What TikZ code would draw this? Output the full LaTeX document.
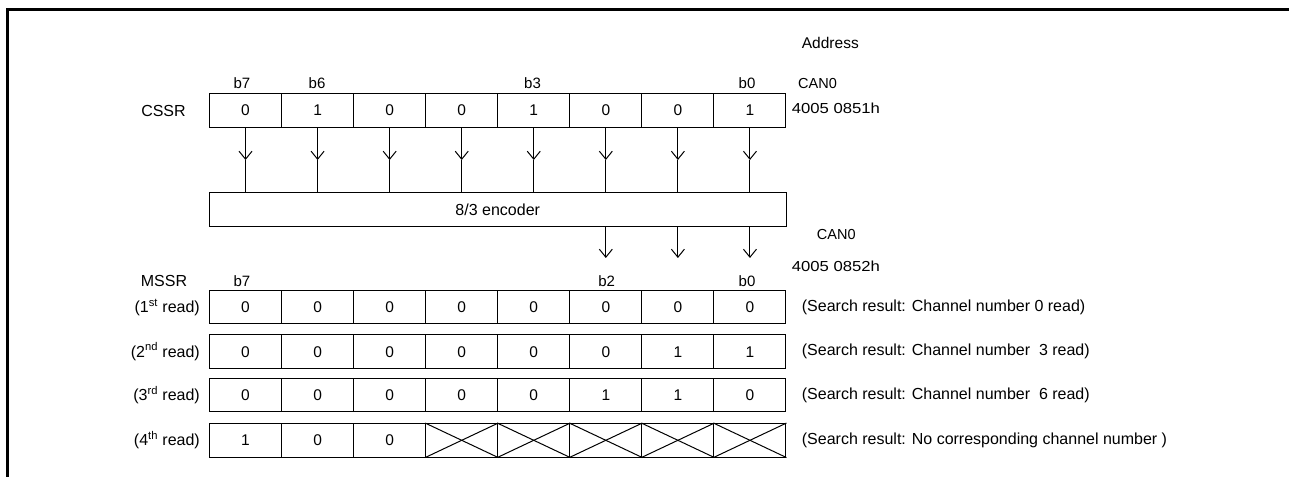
\documentclass[tikz,border=0pt]{standalone}
\usepackage{fontspec}
\setmainfont{Liberation Sans}
\usetikzlibrary{arrows.meta}
\newcommand\myL{\fontsize{16bp}{18bp}\selectfont}
\newcommand\myM{\fontsize{15.5bp}{17bp}\selectfont}
\newcommand\myS{\fontsize{15bp}{17bp}\selectfont}
\newcommand\myC{\fontsize{14.5bp}{16bp}\selectfont}
\newcommand\myT{\fontsize{14.5bp}{16bp}\selectfont}
\begin{document}
\begin{tikzpicture}[x=1bp,y=-1bp,
  cell/.style={draw,line width=1bp,minimum width=72.06bp,minimum height=33.5bp,inner sep=0pt,font=\myM},
  lab/.style={inner sep=0pt,font=\myS},
  biglab/.style={inner sep=0pt,font=\myL},
  arr/.style={line width=1bp,-{Straight Barb[length=8bp,width=13bp,line width=1bp]}},
  wire/.style={line width=1bp}]
\useasboundingbox (0,0) rectangle (1289,477);
\fill[white] (0,0) rectangle (1289,477);
% frame
\draw[line width=3bp,line join=miter] (7.5,477) -- (7.5,9.5) -- (1289,9.5);
% CSSR row
\foreach \v [count=\i] in {0,1,0,0,1,0,0,1}{
  \node[cell,minimum height=34.4bp] (c\i) at ({209.5+72.06*(\i-0.5)},110.5) {\v};
}
\node[biglab] (cssr) at (163.5,110.5) {CSSR};
\node[lab] (t7) at (242,83.3) {b7};
\node[lab] (t6) at (317,83.3) {b6};
\node[lab] (t3) at (532.5,83.3) {b3};
\node[lab] (t0) at (747,83.3) {b0};
\node[lab,anchor=west,font=\myM] (addr) at (801.7,43.3) {Address};
\node[lab,anchor=west,font=\myC] (can0a) at (798,83.5) {CAN0};
\node[inner sep=0pt,anchor=west,font=\myT] (adra) at (791.7,108) {\scalebox{1.15}[1]{4005 0851h}};
% encoder
\node[draw,line width=1bp,minimum width=576.5bp,minimum height=34bp,inner sep=0pt,font=\myL] (enc) at (497.75,209.7) {8/3 encoder};
\foreach \i in {1,...,8}{
  \coordinate (a\i) at ({209.5+72.06*(\i-0.5)},160);
  \draw[arr] (c\i.south) -- (a\i);
  \draw[wire] (a\i) -- (a\i |- enc.north);
}
\foreach \i in {6,7,8}{
  \coordinate (o\i) at ({209.5+72.06*(\i-0.5)},258);
  \draw[arr] (o\i |- enc.south) -- (o\i);
}
\node[lab,anchor=west,font=\myC] (can0b) at (816.7,235) {CAN0};
\node[inner sep=0pt,anchor=west,font=\myT] (adrb) at (791.7,266.7) {\scalebox{1.15}[1]{4005 0852h}};
% MSSR
\node[biglab] (mssr) at (164,280.5) {MSSR};
\node[lab] (m7) at (242,281.5) {b7};
\node[lab] (m2) at (606.7,281.5) {b2};
\node[lab] (m0) at (747,281.5) {b0};
\foreach \v [count=\i] in {0,0,0,0,0,0,0,0}{
  \node[cell] (ra\i) at ({209.5+72.06*(\i-0.5)},307.2) {\v};
}
\foreach \v [count=\i] in {0,0,0,0,0,0,1,1}{
  \node[cell] (rb\i) at ({209.5+72.06*(\i-0.5)},351.7) {\v};
}
\foreach \v [count=\i] in {0,0,0,0,0,1,1,0}{
  \node[cell] (rc\i) at ({209.5+72.06*(\i-0.5)},395) {\v};
}
\foreach \v [count=\i] in {1,0,0,{},{},{},{},{}}{
  \node[cell] (rd\i) at ({209.5+72.06*(\i-0.5)},440.3) {\v};
}
\foreach \i in {4,...,8}{
  \draw[line width=1bp] (rd\i.north west) -- (rd\i.south east);
  \draw[line width=1bp] (rd\i.south west) -- (rd\i.north east);
}
\node[biglab,anchor=east] (la) at (200,307.2) {(1\textsuperscript{st} read)};
\node[biglab,anchor=east] (lb) at (200,351.7) {(2\textsuperscript{nd} read)};
\node[biglab,anchor=east] (lc) at (200,395) {(3\textsuperscript{rd} read)};
\node[biglab,anchor=east] (ld) at (200,440.3) {(4\textsuperscript{th} read)};
\node[biglab,anchor=west] (sa) at (801.7,307.2) {(Search result: Channel number 0 read)};
\node[biglab,anchor=west] (sb) at (801.7,351.7) {(Search result: Channel number\ \ 3 read)};
\node[biglab,anchor=west] (sc) at (801.7,395) {(Search result: Channel number\ \ 6 read)};
\node[biglab,anchor=west] (sd) at (801.7,440.3) {(Search result: No corresponding channel number )};
\end{tikzpicture}
\end{document}
